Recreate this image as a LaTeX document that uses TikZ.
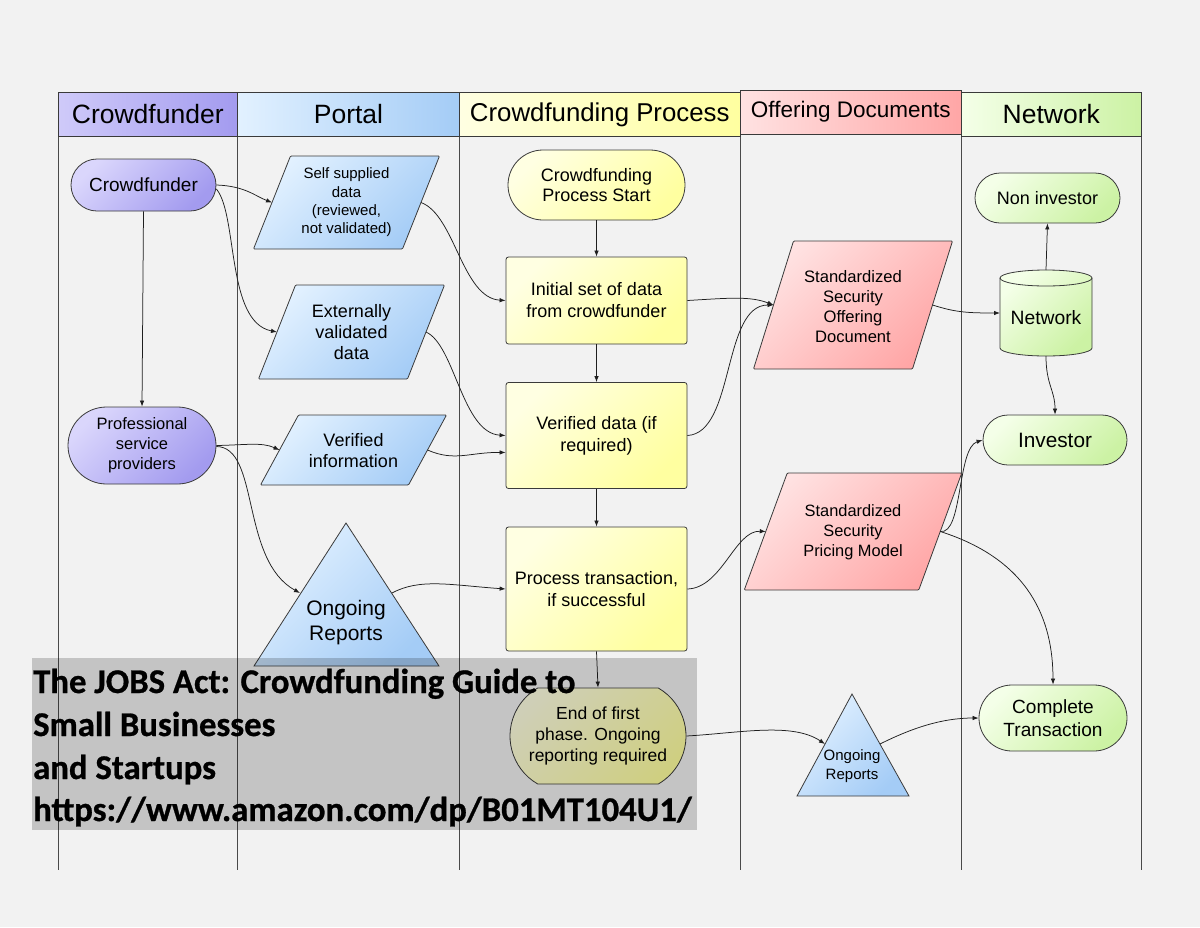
\documentclass[tikz,border=0pt]{standalone}
\usepackage{fontspec}
\setmainfont{Liberation Sans}
\newfontfamily\carlito[BoldFeatures={FakeBold=0.8}]{Carlito}
\usetikzlibrary{arrows.meta,shapes.misc,shapes.geometric}
\definecolor{bgcol}{HTML}{F2F2F2}
\definecolor{lanecol}{HTML}{4A4A4A}
\definecolor{outl}{HTML}{3A3A3A}
\definecolor{purL}{HTML}{DAD6FC}
\definecolor{purD}{HTML}{A39BEF}
\definecolor{bluL}{HTML}{E2F1FF}
\definecolor{bluD}{HTML}{A4CCF6}
\definecolor{yelL}{HTML}{FFFFE2}
\definecolor{yelD}{HTML}{FFFFA0}
\definecolor{pinL}{HTML}{FFE2E2}
\definecolor{pinD}{HTML}{FFA6A6}
\definecolor{greL}{HTML}{F4FFE8}
\definecolor{greD}{HTML}{CCF2A4}
\newcommand\fsz[2]{\fontsize{#1}{#2}\selectfont}
\newcommand\pgram[8]{%
  \path[draw=outl,line width=0.8pt,rounded corners=1pt,top color=#7,bottom color=#8,shading angle=45]
    ({#2-#4/2+#6/2},{#3-#5/2}) -- ({#2+#4/2+#6/2},{#3-#5/2}) --
    ({#2+#4/2-#6/2},{#3+#5/2}) -- ({#2-#4/2-#6/2},{#3+#5/2}) -- cycle;
  \coordinate (#1-l) at ({#2-#4/2},#3);
  \coordinate (#1-r) at ({#2+#4/2},#3);
}
\tikzset{
  x=1pt,y=-1pt,
  hdr/.style={draw=outl,line width=0.8pt,rectangle,inner sep=0pt,font=\fsz{26.5}{30}},
  shd/.style 2 args={top color=#1,bottom color=#2,shading angle=45},
  stad/.style={rounded rectangle,draw=outl,line width=0.8pt,inner sep=2pt,align=center},
  rbox/.style={rectangle,rounded corners=2.5pt,draw=outl,line width=0.8pt,inner sep=2pt,align=center},
  txt/.style={inner sep=0pt,align=center},
  conn/.style={draw=black!88,line width=0.75pt,-{Latex[length=6pt,width=4.5pt]}},
  lane/.style={draw=lanecol,line width=0.9pt},
  ovtxt/.style={anchor=base west,inner sep=0pt,font=\carlito\bfseries\fsz{34.7}{40}}
}
\begin{document}
\begin{tikzpicture}
\useasboundingbox (0,0) rectangle (1200,927);
\fill[bgcol] (0,0) rectangle (1200,927);

% lanes
\foreach \xx in {58,237.5,459.5,740,961.5,1141}{\draw[lane] (\xx,92) -- (\xx,870);}

% headers
\node[hdr,left color=purL!80!purD,right color=purD,minimum width=179.5pt,minimum height=44pt] (h1) at (147.75,114.5) {Crowdfunder};
\node[hdr,left color=bluL,right color=bluD,minimum width=222pt,minimum height=44pt] (h2) at (348.5,114.5) {Portal};
\node[hdr,left color=yelL,right color=yelD,minimum width=280.5pt,minimum height=44pt,font=\fsz{25.8}{30}] (h3) at (599.75,114.5) {Crowdfunding Process};
\node[hdr,left color=pinL,right color=pinD,minimum width=221.5pt,minimum height=44pt,font=\fsz{22.5}{26}] (h4) at (850.75,112) {Offering Documents};
\node[hdr,left color=greL,right color=greD,minimum width=179.5pt,minimum height=44pt] (h5) at (1051.25,114.5) {Network};

% Crowdfunder lane
\node[stad,shd={purL}{purD},minimum width=149pt,minimum height=52pt,font=\fsz{19}{22}] (cf) at (143.5,185) {Crowdfunder};
\node[stad,shd={purL}{purD},minimum width=152pt,minimum height=77pt,font=\fsz{16.5}{20}] (ps) at (142,445.5) {Professional\\service\\providers};

% Portal lane
\pgram{ss}{346.5}{202.5}{149}{93}{37}{bluL}{bluD}
\node[txt,font=\fsz{15}{18.3}] (ss) at (346.5,202.5) {Self supplied\\data\\(reviewed,\\not validated)};
\pgram{ev}{351.5}{332}{149}{94}{37}{bluL}{bluD}
\node[txt,font=\fsz{18}{21}] (ev) at (351.5,332) {Externally\\validated\\data};
\pgram{vi}{353.5}{450}{148}{70}{38}{bluL}{bluD}
\node[txt,font=\fsz{18}{21}] (vi) at (353.5,451) {Verified\\information};
\path[draw=outl,line width=0.8pt,top color=bluL,bottom color=bluD,shading angle=45] (346,523) -- (439,666) -- (254,666) -- cycle;
\coordinate (bt-l) at (300,593);
\coordinate (bt-r) at (392,593);
\node[txt,font=\fsz{21}{25}] (bt) at (346,623) {Ongoing\\Reports};

% Process lane
\node[stad,shd={yelL}{yelD},minimum width=181pt,minimum height=70pt,font=\fsz{18}{20.7}] (st) at (596.5,185) {Crowdfunding\\Process Start};
\node[rbox,shd={yelL}{yelD},minimum width=181pt,minimum height=87pt,font=\fsz{18}{22}] (in) at (596.5,300.5) {Initial set of data\\from crowdfunder};
\node[rbox,shd={yelL}{yelD},minimum width=181pt,minimum height=106pt,font=\fsz{18}{22}] (vd) at (596.5,435.5) {Verified data (if\\required)};
\node[rbox,shd={yelL}{yelD},minimum width=181pt,minimum height=124pt,font=\fsz{18}{22}] (pt) at (596.5,589) {Process transaction,\\if successful};
\node[stad,rounded rectangle arc length=120,shd={yelL}{yelD},minimum width=180pt,minimum height=96pt,font=\fsz{17.5}{21}] (en) at (598,736) {End of first\\phase. Ongoing\\reporting required};

% Offering documents lane
\pgram{sd}{853}{305}{159}{128}{40}{pinL}{pinD}
\node[txt,font=\fsz{16.6}{20}] (sd) at (853,307) {Standardized\\Security\\Offering\\Document};
\pgram{sp}{853}{531.5}{174.5}{117}{43}{pinL}{pinD}
\node[txt,font=\fsz{16.4}{20}] (sp) at (853,532) {Standardized\\Security\\Pricing Model};
\path[draw=outl,line width=0.8pt,top color=bluL,bottom color=bluD,shading angle=45] (852,694) -- (909,796) -- (797,796) -- cycle;
\coordinate (ot-l) at (825,744);
\coordinate (ot-r) at (880,744);
\node[txt,font=\fsz{15}{18.3}] (ot) at (852,766) {Ongoing\\Reports};

% Network lane
\node[stad,shd={greL}{greD},minimum width=149pt,minimum height=50pt,font=\fsz{18}{22}] (ni) at (1047.5,198) {Non investor};
\path[draw=outl,line width=0.8pt,top color=greL,bottom color=greD,shading angle=45]
  (1000,278) -- (1000,348) arc[start angle=180,end angle=360,x radius=46,y radius=-8] -- (1092,278) arc[start angle=0,end angle=180,x radius=46,y radius=-8] -- cycle;
\draw[outl,line width=0.8pt] (1000,278) arc[start angle=180,end angle=360,x radius=46,y radius=-8];
\node[txt,font=\fsz{19.3}{22}] (nw) at (1046,318) {Network};
\coordinate (nw-t) at (1046,270);
\coordinate (nw-b) at (1046,356);
\coordinate (nw-l) at (1000,313);
\node[stad,shd={greL}{greD},minimum width=148pt,minimum height=50pt,font=\fsz{20.8}{24}] (iv) at (1055,440) {Investor};
\node[stad,shd={greL}{greD},minimum width=152pt,minimum height=66pt,font=\fsz{19.1}{23}] (ct) at (1053,718) {Complete\\Transaction};

% connectors
\draw[conn] (cf.east) .. controls (245,186) and (255,196) .. (ss-l);
\draw[conn] ([yshift=-4pt]cf.east) .. controls (238,215) and (226,322) .. (ev-l);
\draw[conn] (cf.south) -- (ps.north);
\draw[conn] (ss-r) .. controls (455,215) and (462,298) .. (in.west);
\draw[conn] (ev-r) .. controls (455,345) and (462,433) .. (vd.west);
\draw[conn] (ps.east) .. controls (245,445) and (262,442) .. (vi-l);
\draw[conn] ([yshift=-1pt]ps.east) .. controls (260,447) and (240,560) .. (bt-l);
\draw[conn] (vi-r) .. controls (455,462) and (470,452) .. ([yshift=-17pt]vd.west);
\draw[conn] (bt-r) .. controls (420,578) and (450,585) .. (pt.west);
\draw[conn] (st.south) -- (in.north);
\draw[conn] (in.south) -- (vd.north);
\draw[conn] (vd.south) -- (pt.north);
\draw[conn] (pt.south) -- (en.north);
\draw[conn] (in.east) .. controls (730,298) and (750,296) .. (sd-l);
\draw[conn] (vd.east) .. controls (735,433) and (722,305) .. (sd-l);
\draw[conn] (sd-r) .. controls (955,312) and (965,313) .. (nw-l);
\draw[conn] (nw-t) -- (ni.south);
\draw[conn] (nw-b) .. controls (1046,385) and (1055,390) .. (iv.north);
\draw[conn] (pt.east) .. controls (722,588) and (735,530) .. (sp-l);
\draw[conn] (sp-r) .. controls (963,535) and (957,448) .. (iv.west);
\draw[conn] (sp-r) .. controls (1030,560) and (1053,620) .. (ct.north);
\draw[conn] (en.east) .. controls (740,733) and (792,722) .. (ot-l);
\draw[conn] (ot-r) .. controls (912,728) and (942,718) .. (ct.west);

% overlay
\fill[black,fill opacity=0.19] (32,658) rectangle (697,830);
\node[ovtxt] (o1) at (33,693) {The JOBS Act: Crowdfunding Guide to};
\node[ovtxt] (o2) at (33,736) {Small Businesses};
\node[ovtxt] (o3) at (33,779) {and Startups};
\node[ovtxt] (o4) at (33,821) {https://www.amazon.com/dp/B01MT104U1/};
\end{tikzpicture}
\end{document}
